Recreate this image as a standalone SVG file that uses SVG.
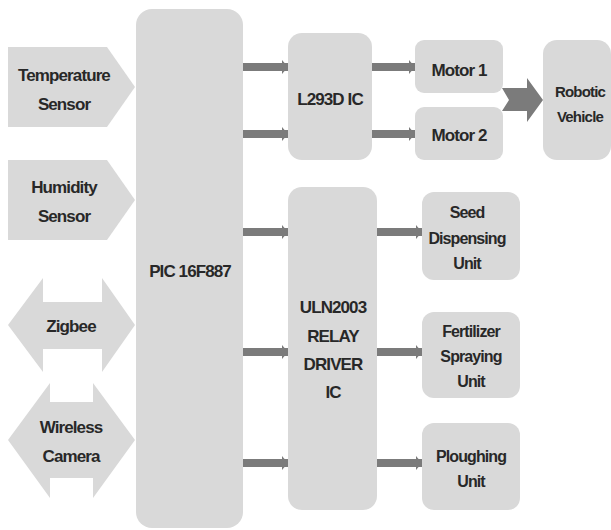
<svg xmlns="http://www.w3.org/2000/svg" width="611" height="530" viewBox="0 0 611 530">
<defs>
<style>
.box{fill:#d9d9d9;}
.t{font-family:"Liberation Sans",Arial,sans-serif;font-weight:bold;font-size:17px;fill:#282828;text-anchor:middle;letter-spacing:-0.9px;}
.s{font-size:16px;letter-spacing:-0.9px;}
.r{font-size:15px;letter-spacing:-0.8px;}
</style>
<marker id="ah" viewBox="0 0 6 14" refX="6" refY="7" markerWidth="6" markerHeight="14" markerUnits="userSpaceOnUse" orient="auto">
<path d="M0,0 L6,7 L0,14 Z" fill="#7b7b7b"/>
</marker>
</defs>
<rect width="611" height="530" fill="#ffffff"/>
<g id="connectors" stroke="#7b7b7b" stroke-width="8" fill="none">
<line x1="243" y1="67" x2="288" y2="67" marker-end="url(#ah)"/>
<line x1="243" y1="134" x2="288" y2="134" marker-end="url(#ah)"/>
<line x1="243" y1="232" x2="288" y2="232" marker-end="url(#ah)"/>
<line x1="243" y1="352" x2="288" y2="352" marker-end="url(#ah)"/>
<line x1="243" y1="463" x2="288" y2="463" marker-end="url(#ah)"/>
<line x1="372" y1="67" x2="415" y2="67" marker-end="url(#ah)"/>
<line x1="372" y1="134" x2="415" y2="134" marker-end="url(#ah)"/>
<line x1="377" y1="232" x2="422" y2="232" marker-end="url(#ah)"/>
<line x1="377" y1="352" x2="422" y2="352" marker-end="url(#ah)"/>
<line x1="377" y1="463" x2="422" y2="463" marker-end="url(#ah)"/>
<path d="M502,88 L527,88 L527,78 L543,100 L527,122 L527,111 L502,111 L509,100 Z" fill="#7b7b7b" stroke="none"/>
</g>
<g id="temp">
<path class="box" d="M8,47 L107,47 L135,87 L107,127 L8,127 Z"/>
<text class="t" x="64" y="81">Temperature</text>
<text class="t" x="64" y="110">Sensor</text>
</g>
<g id="humidity">
<path class="box" d="M8,160 L107,160 L135,200 L107,240 L8,240 Z"/>
<text class="t" x="64" y="193">Humidity</text>
<text class="t" x="64" y="222">Sensor</text>
</g>
<g id="zigbee">
<path class="box" d="M8,325 L43,278 L43,302 L102,302 L102,278 L135,325 L102,372 L102,349 L43,349 L43,372 Z"/>
<text class="t" x="71" y="332">Zigbee</text>
</g>
<g id="camera">
<path class="box" d="M8,440 L50,383 L50,402 L93,402 L93,383 L135,440 L93,498 L93,478 L50,478 L50,498 Z"/>
<text class="t" x="71" y="433">Wireless</text>
<text class="t" x="71" y="462">Camera</text>
</g>
<g id="pic">
<rect class="box" x="136" y="9" width="107" height="519" rx="16"/>
<text class="t" x="190" y="277">PIC 16F887</text>
</g>
<g id="l293d">
<rect class="box" x="288" y="33" width="84" height="127" rx="14"/>
<text class="t" x="330" y="105">L293D IC</text>
</g>
<g id="motor1">
<rect class="box" x="415" y="40" width="88" height="53" rx="9"/>
<text class="t" x="459" y="76">Motor 1</text>
</g>
<g id="motor2">
<rect class="box" x="415" y="107" width="88" height="53" rx="9"/>
<text class="t" x="459" y="141">Motor 2</text>
</g>
<g id="robot">
<rect class="box" x="543" y="40" width="68" height="120" rx="14"/>
<text class="t r" x="580" y="97">Robotic</text>
<text class="t r" x="580" y="122">Vehicle</text>
</g>
<g id="uln">
<rect class="box" x="288" y="187" width="89" height="323" rx="14"/>
<text class="t" x="333" y="313">ULN2003</text>
<text class="t" x="333" y="342">RELAY</text>
<text class="t" x="333" y="370">DRIVER</text>
<text class="t" x="333" y="398">IC</text>
</g>
<g id="seed">
<rect class="box" x="422" y="192" width="98" height="88" rx="12"/>
<text class="t s" x="467" y="218">Seed</text>
<text class="t s" x="467" y="244">Dispensing</text>
<text class="t s" x="467" y="269">Unit</text>
</g>
<g id="fert">
<rect class="box" x="422" y="312" width="98" height="86" rx="12"/>
<text class="t s" x="471" y="337">Fertilizer</text>
<text class="t s" x="471" y="362">Spraying</text>
<text class="t s" x="471" y="387">Unit</text>
</g>
<g id="plough">
<rect class="box" x="422" y="423" width="98" height="87" rx="12"/>
<text class="t s" x="471" y="462">Ploughing</text>
<text class="t s" x="471" y="487">Unit</text>
</g>
</svg>
